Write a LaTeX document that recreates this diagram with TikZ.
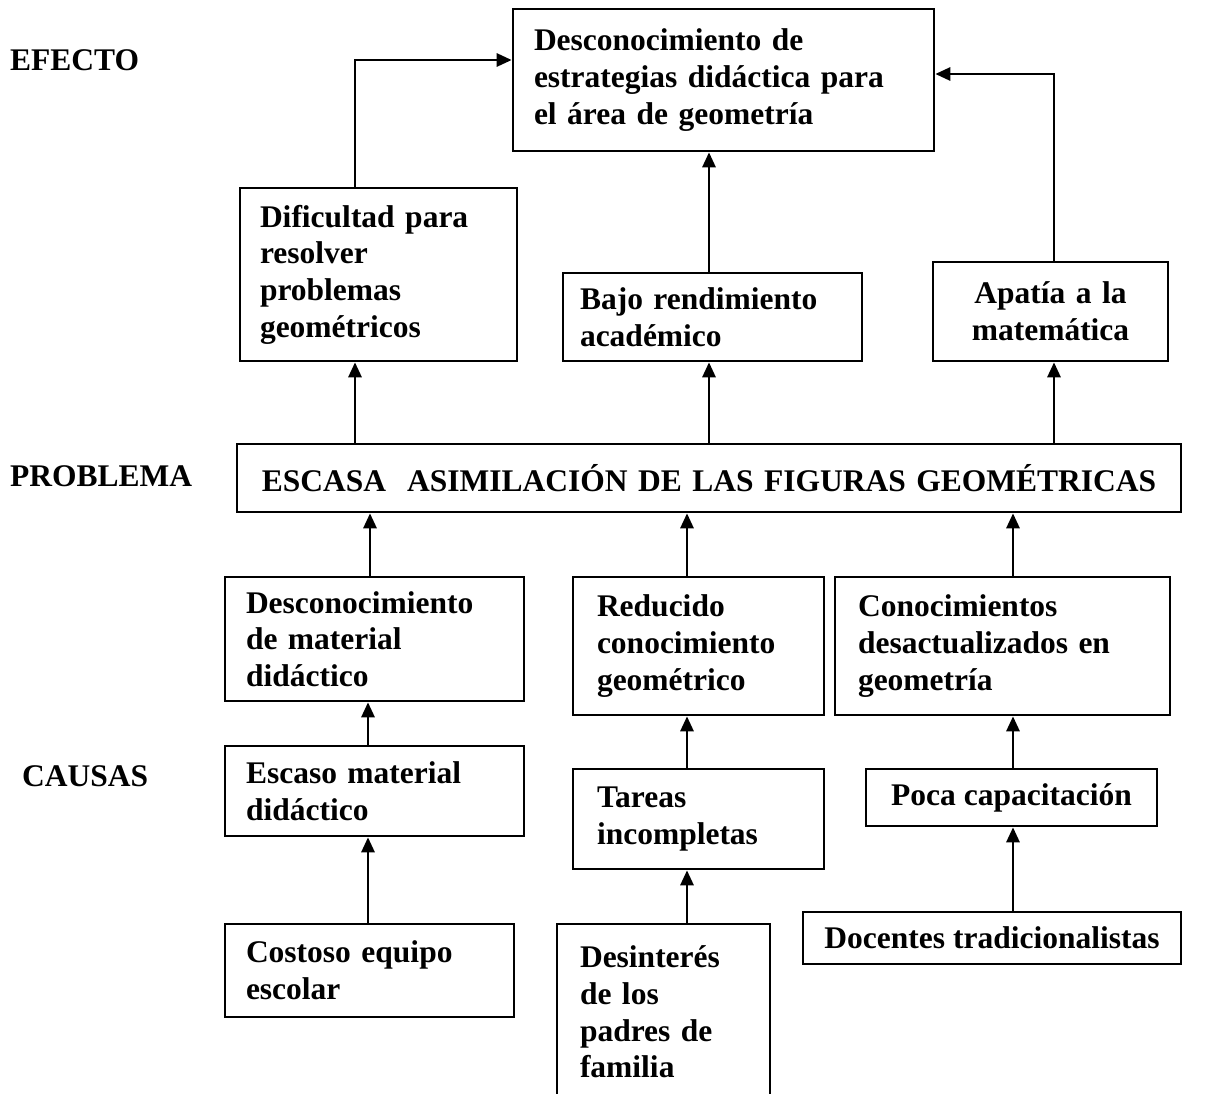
\documentclass[tikz,border=0pt]{standalone}
\usepackage{fontspec}
\setmainfont{Liberation Serif}
\usetikzlibrary{arrows.meta}
\begin{document}
\begin{tikzpicture}[x=1pt,y=-1pt,
  every node/.style={font=\bfseries\fontsize{31.5}{36.7}\selectfont},
  box/.style={draw, line width=2.6pt, inner ysep=0pt, inner xsep=21pt, align=left},
  tag/.style={anchor=west, inner sep=0pt},
  arr/.style={line width=2.8pt, -{Triangle[length=15pt,width=13pt]}}]
\useasboundingbox (0,0) rectangle (1213,1093);

% row labels
\node[tag] (lef) at (10,60) {EFECTO};
\node[tag] (lpr) at (10,476) {PROBLEMA};
\node[tag] (lca) at (22,776) {CAUSAS};

% effect
\node[box, text width=379pt, minimum height=142pt] (T) at (723.5,80)
  {Desconocimiento de\\estrategias didáctica para\\el área de geometría};
\node[box, inner xsep=20pt, text width=237pt, minimum height=173pt] (D) at (378.5,274.5)
  {Dificultad para\\resolver\\problemas\\geométricos};
\node[box, inner xsep=17pt, text width=265pt, minimum height=88pt] (B) at (712.5,317)
  {Bajo rendimiento\\académico};
\node[box, align=center, inner xsep=10pt, text width=215pt, minimum height=99pt] (A) at (1050.5,311.5)
  {Apatía a la\\matemática};

% problem
\node[box, align=center, inner xsep=10pt, text width=924pt, minimum height=68pt] (P) at (709,478)
  {ESCASA\ \ ASIMILACIÓN DE LAS FIGURAS GEOMÉTRICAS};

% causes
\node[box, text width=257pt, minimum height=124pt] (DM) at (374.5,639)
  {Desconocimiento\\de material\\didáctico};
\node[box, inner xsep=24pt, text width=203pt, minimum height=138pt] (R) at (698.5,646)
  {Reducido\\conocimiento\\geométrico};
\node[box, inner xsep=23pt, text width=289pt, minimum height=138pt] (C) at (1002.5,646)
  {Conocimientos\\desactualizados en\\geometría};
\node[box, text width=257pt, minimum height=90pt] (E) at (374.5,791)
  {Escaso material\\didáctico};
\node[box, inner xsep=24pt, text width=203pt, minimum height=100pt] (TI) at (698.5,819)
  {Tareas\\incompletas};
\node[box, inner xsep=0pt, minimum width=291pt, minimum height=57pt] (PC) at (1011.5,797.5)
  {Poca capacitación};
\node[box, text width=247pt, minimum height=93pt] (CE) at (369.5,970.5)
  {Costoso equipo\\escolar};
\node[box, inner xsep=23pt, text width=167pt, minimum height=176pt] (DI) at (663.5,1012)
  {Desinterés\\de los\\padres de\\familia};
\node[box, inner xsep=0pt, minimum width=378pt, minimum height=52pt] (DT) at (992,938)
  {Docentes tradicionalistas};

% effects into the top box
\draw[arr] ([xshift=-23.5pt]D.north) |- ([yshift=20pt]T.west);
\draw[arr] ([xshift=3.5pt]A.north) |- ([yshift=6pt]T.east);
\draw[arr] ([xshift=-3.5pt]B.north) -- ([xshift=-3.5pt]B.north |- T.south);

% problem into the effects
\draw[arr] ([xshift=-23.5pt]D.south |- P.north) -- ([xshift=-23.5pt]D.south);
\draw[arr] ([xshift=-3.5pt]B.south |- P.north) -- ([xshift=-3.5pt]B.south);
\draw[arr] ([xshift=3.5pt]A.south |- P.north) -- ([xshift=3.5pt]A.south);

% causes into the problem
\draw[arr] ([xshift=-4.5pt]DM.north) -- ([xshift=-4.5pt]DM.north |- P.south);
\draw[arr] ([xshift=-11.5pt]R.north) -- ([xshift=-11.5pt]R.north |- P.south);
\draw[arr] ([xshift=10.5pt]C.north) -- ([xshift=10.5pt]C.north |- P.south);

% root causes
\draw[arr] ([xshift=-6.5pt]E.north) -- ([xshift=-6.5pt]E.north |- DM.south);
\draw[arr] ([xshift=-11.5pt]TI.north) -- ([xshift=-11.5pt]TI.north |- R.south);
\draw[arr] ([xshift=1.5pt]PC.north) -- ([xshift=1.5pt]PC.north |- C.south);
\draw[arr] ([xshift=-1.5pt]CE.north) -- ([xshift=-1.5pt]CE.north |- E.south);
\draw[arr] ([xshift=23.5pt]DI.north) -- ([xshift=23.5pt]DI.north |- TI.south);
\draw[arr] ([xshift=21pt]DT.north) -- ([xshift=21pt]DT.north |- PC.south);
\end{tikzpicture}
\end{document}
